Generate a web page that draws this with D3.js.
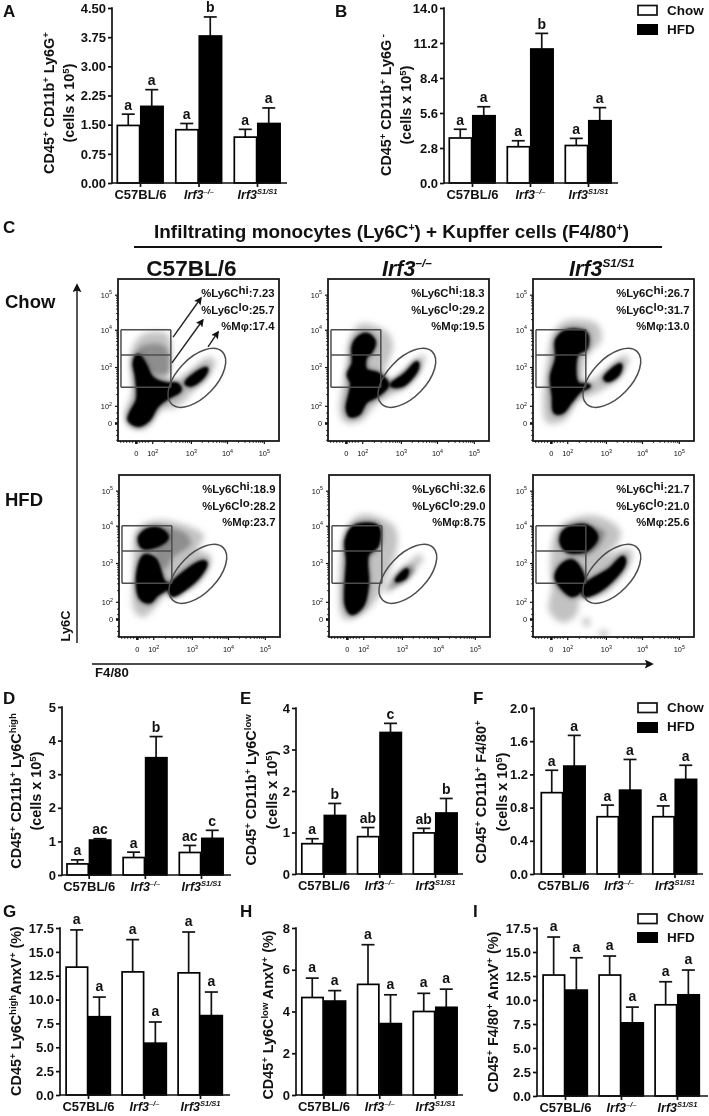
<!DOCTYPE html>
<html><head><meta charset="utf-8">
<script src="https://cdn.jsdelivr.net/npm/d3@7/dist/d3.min.js"></script>
<style>html,body{margin:0;padding:0;background:#fff}svg{display:block;filter:blur(.35px)}text{font-family:"Liberation Sans",Arial,sans-serif;font-weight:700;fill:#111}</style>
</head><body><svg id="c" width="709" height="1116"></svg>
<script>
const categories = ["C57BL/6","Irf3^{–/–}","Irf3^{S1/S1}"];
const seriesNames = ["Chow","HFD"];
// Bar panels: values (top of bar), upper error bar end, significance letters
const aChow=[1.48,1.37,1.18], aHfd=[1.97,3.78,1.53], aChowErr=[1.77,1.53,1.38], aHfdErr=[2.40,4.27,1.93], aLetters=["a","a","a","b","a","a"];
const bChow=[3.6,2.9,3.0], bHfd=[5.38,10.72,4.98], bChowErr=[4.3,3.38,3.57], bHfdErr=[6.1,11.97,6.03], bLetters=["a","a","a","b","a","a"];
const dChow=[.33,.52,.67], dHfd=[1.04,3.49,1.09], dChowErr=[.45,.68,.88], dHfdErr=[1.08,4.12,1.33], dLetters=["a","ac","a","b","ac","c"];
const eChow=[.73,.90,.99], eHfd=[1.41,3.41,1.47], eChowErr=[.85,1.12,1.10], eHfdErr=[1.70,3.63,1.82], eLetters=["a","b","ab","c","ab","b"];
const fChow=[.98,.69,.69], fHfd=[1.30,1.01,1.14], fChowErr=[1.25,.83,.82], fHfdErr=[1.67,1.38,1.31], fLetters=["a","a","a","a","a","a"];
const gChow=[13.4,12.9,12.8], gHfd=[8.2,5.43,8.32], gChowErr=[17.3,16.28,17.08], gHfdErr=[10.26,7.65,10.79], gLetters=["a","a","a","a","a","a"];
const hChow=[4.67,5.3,4.0], hHfd=[4.5,3.42,4.2], hChowErr=[5.6,7.2,4.87], hHfdErr=[5.0,4.8,5.07], hLetters=["a","a","a","a","a","a"];
const iChow=[12.6,12.6,9.5], iHfd=[11.03,7.62,10.54], iChowErr=[16.56,14.58,11.9], iHfdErr=[14.4,9.26,13.12], iLetters=["a","a","a","a","a","a"];
const aTicks=[0,.75,1.5,2.25,3,3.75,4.5], bTicks=[0,2.8,5.6,8.4,11.2,14], dTicks=[0,1,2,3,4,5], eTicks=[0,1,2,3,4], fTicks=[0,.4,.8,1.2,1.6,2], gTicks=[0,2.5,5,7.5,10,12.5,15,17.5], hTicks=[0,2,4,6,8];

// Flow cytometry panels: gate percentages and density contours, in decades of the biexponential axes
const flowColumns=["C57BL/6","Irf3^{–/–}","Irf3^{S1/S1}"];
const flowHi=["7.23","18.3","26.7","18.9","32.6","21.7"], flowLo=["25.7","29.2","31.7","28.2","29.0","21.0"], flowMac=["17.4","19.5","13.0","23.7","8.75","25.6"];
const flowTickLabels=["0","10^{2}","10^{3}","10^{4}","10^{5}"];
const flowXTicks=[1.54,1.98,3.02,3.99,4.98], flowYTicks=[1.57,2.03,3.07,4.07,5.01];
const gateX=[1.14,2.48], gateY=[2.53,3.39,4.07], macGate={cx:3.18,cy:2.78,a:.98,b:.52,angle:-46};
const halo1=[[[1.46,3.54],[1.73,3.91],[2.36,3.94],[2.47,3.62],[2.45,2.64],[2.9,2.87],[3.48,3.31],[3.66,3.22],[3.52,2.91],[3.08,2.46],[2.63,2.02],[2.18,1.93],[1.82,1.48],[1.42,1.48],[1.28,1.84],[1.46,2.37],[1.42,3.18]]];
const mid1=[[[1.6,3.55],[2.0,3.7],[2.35,3.6],[2.4,2.9],[2.0,2.9],[1.7,3.2]]];
const core1=[[[1.6,3.37],[1.78,3.13],[1.96,2.78],[2.36,2.6],[2.63,2.6],[2.72,2.46],[2.36,2.24],[2.09,2.02],[1.87,1.66],[1.6,1.52],[1.37,1.66],[1.42,1.84],[1.6,2.2],[1.57,2.82],[1.51,3.18]],[[2.9,2.64],[3.26,2.95],[3.43,3.02],[3.34,2.82],[3.03,2.6]]];
const halo2=[[[1.66,3.79],[1.93,4.2],[2.65,3.97],[2.78,3.62],[2.56,2.9],[2.74,2.68],[3.63,3.39],[3.59,3.12],[3.09,2.54],[2.38,2.14],[1.93,1.65],[1.53,1.61],[1.39,1.92],[1.57,2.99]]];
const mid2=[];
const core2=[[[1.88,3.84],[2.11,3.93],[2.29,3.75],[2.2,3.48],[2.06,3.35],[2.06,2.99],[2.42,2.86],[2.65,2.59],[2.38,2.32],[2.06,2.14],[1.88,1.83],[1.66,1.78],[1.59,1.96],[1.71,2.63],[1.62,2.86],[1.75,3.17],[1.75,3.62]],[[2.78,2.59],[3.14,2.86],[3.45,3.17],[3.43,2.99],[3.05,2.59]]];
const halo3=[[[1.62,3.97],[1.97,4.29],[2.78,4.2],[2.87,3.79],[2.47,3.35],[2.42,2.63],[2.96,2.9],[3.5,3.35],[3.63,3.3],[3.41,2.9],[2.87,2.45],[2.24,2.18],[1.88,1.65],[1.44,1.61],[1.35,2.1],[1.44,2.99]]];
const mid3=[];
const core3=[[[1.71,3.79],[1.97,4.02],[2.47,3.97],[2.47,3.57],[2.24,3.44],[2.24,2.63],[2.56,2.56],[2.33,2.45],[2.06,2.14],[1.84,1.87],[1.66,1.87],[1.62,2.28],[1.57,2.81],[1.71,3.3]],[[3.0,2.77],[3.4,3.12],[3.35,2.9],[3.08,2.72]]];
const halo4=[[[1.57,3.96],[2.06,4.19],[2.87,4.05],[3.32,3.79],[3.14,3.43],[3.5,3.25],[3.45,2.98],[2.96,2.44],[2.51,2.62],[2.15,2.09],[1.71,1.64],[1.48,1.82],[1.48,2.71]]];
const mid4=[[[2.1,4.0],[2.8,3.9],[3.0,3.6],[2.5,3.2],[2.3,2.9],[2.0,3.4]]];
const core4=[[[1.62,3.74],[1.84,3.95],[2.15,3.96],[2.35,3.77],[2.11,3.56],[1.71,3.5]],[[1.75,3.25],[2.02,3.16],[2.24,2.58],[2.38,2.45],[2.06,2.22],[1.88,2.04],[1.66,2.13],[1.57,2.71]],[[2.47,2.49],[3.23,3.07],[3.38,3.07],[3.23,2.76],[2.78,2.36],[2.51,2.22],[2.42,2.36]]];
const halo5=[[[2.03,4.36],[2.79,4.04],[2.88,3.64],[2.52,2.53],[2.16,1.9],[1.62,1.59],[1.44,1.62],[1.49,3.77],[1.71,4.22]],[[2.57,2.35],[3.51,3.28],[3.55,3.15],[2.79,2.44],[2.61,2.3]]];
const mid5=[[[2.66,2.37],[3.3,3.02],[3.35,2.85],[2.8,2.42]]];
const core5=[[[1.76,4.04],[2.35,4.04],[2.35,3.55],[2.08,3.29],[2.08,2.48],[1.95,1.94],[1.68,1.73],[1.54,1.94],[1.57,3.15],[1.54,3.69]],[[2.88,2.61],[3.15,2.88],[3.1,2.7]]];
const halo6=[[[1.73,3.96],[2.4,4.31],[3.02,4.22],[3.39,3.91],[3.3,3.6],[2.94,3.24],[3.66,3.42],[3.7,3.2],[2.94,2.26],[2.31,2.17],[2.22,1.72],[1.87,1.5],[1.51,1.81],[1.6,2.44],[1.55,3.06]],[[2.42,1.55],[2.55,1.55],[2.55,1.4],[2.45,1.42]],[[2.86,1.22],[3.06,1.22],[3.0,1.1],[2.9,1.1]]];
const mid6=[[[2.3,3.2],[2.8,3.5],[3.0,3.9],[2.6,4.0],[2.5,3.4]]];
const core6=[[[1.82,3.69],[1.96,3.96],[2.49,4.05],[2.76,3.78],[2.49,3.42],[1.96,3.42]],[[1.87,3.02],[2.13,3.11],[2.4,2.7],[2.4,2.44],[2.13,2.21],[1.87,2.39],[1.69,2.7]],[[2.45,2.44],[3.12,2.88],[3.48,3.21],[3.5,3.06],[3.12,2.57],[2.67,2.26],[2.45,2.21]]];
const arrowsFrom=[[2.54,3.87],[2.51,3.18],[3.48,3.61]], arrowsTo=[[3.29,4.92],[3.34,4.33],[3.75,4.01]];

const svg=d3.select("#c");
const defs=svg.append("defs");
[["b5",3.4],["b3",2.4],["b1",1.0]].forEach(([id,s])=>defs.append("filter").attr("id",id).attr("x","-30%").attr("y","-30%").attr("width","160%").attr("height","160%").append("feGaussianBlur").attr("stdDeviation",s));
const mk=(id,w)=>defs.append("marker").attr("id",id).attr("viewBox","0 0 10 10").attr("refX",8).attr("refY",5).attr("markerWidth",w).attr("markerHeight",w).attr("markerUnits","userSpaceOnUse").attr("orient","auto").append("path").attr("d","M0,0L10,5L0,10L2,5Z").attr("fill","#111");
mk("ar",9);mk("ars",8);

function rich(t,str,size,opt={}){
  const sc=opt.sc||.66, rise=opt.rise==null?.38:opt.rise, parts=str.split(/\^\{([^}]*)\}/);
  t.text(null).style("font-size",size+"px");
  let pending=0;
  parts.forEach((p,i)=>{ if(!p) return;
    const sup=i%2===1, ts=t.append("tspan").text(p);
    if(sup){ts.style("font-size",(size*sc)+"px").attr("dy",-size*rise-pending);pending=-size*rise;}
    else{ if(pending) ts.attr("dy",-pending); pending=0;}
  });
  return t;
}
const txt=(x,y,s,size,o={})=>{const t=svg.append("text").attr("x",x).attr("y",y).attr("text-anchor",o.anchor||"start");if(o.italic)t.style("font-style","italic");return rich(t,s,size,o);};
const vtxt=(x,y,s,size)=>{const t=svg.append("text").attr("text-anchor","middle").attr("transform",`translate(${x},${y}) rotate(-90)`);return rich(t,s,size);};

function legend(x,y0,y1,ty0,ty1){
  svg.append("rect").attr("x",x).attr("y",y0).attr("width",19).attr("height",9.5).attr("fill","#fff").attr("stroke","#111").attr("stroke-width",1.7);
  svg.append("rect").attr("x",x-1).attr("y",y1-1).attr("width",21).attr("height",11).attr("fill","#000");
  txt(x+29,ty0,seriesNames[0],13.5); txt(x+29,ty1,seriesNames[1],13.5);
}

function barPanel(p){
  const g=svg.append("g");
  const y=d3.scaleLinear().domain([p.ticks[0],p.ticks[p.ticks.length-1]]).range([p.base,p.top]);
  const gx=d3.scalePoint().domain(categories).range(p.cx);
  const sub=d3.scaleBand().domain(seriesNames).range([-p.w,p.w]);
  const rows=[];
  categories.forEach((c,i)=>{rows.push({c,s:"Chow",v:p.chow[i],e:p.chowErr[i],l:p.letters[2*i]});rows.push({c,s:"HFD",v:p.hfd[i],e:p.hfdErr[i],l:p.letters[2*i+1]});});
  const X=d=>gx(d.c)+sub(d.s), bw=sub.bandwidth();
  g.selectAll("line.e").data(rows).join("line").attr("x1",d=>X(d)+bw/2).attr("x2",d=>X(d)+bw/2).attr("y1",d=>y(d.v)).attr("y2",d=>y(d.e)).attr("stroke","#111").attr("stroke-width",1.7);
  g.selectAll("line.c").data(rows).join("line").attr("x1",d=>X(d)+bw/2-6.5).attr("x2",d=>X(d)+bw/2+6.5).attr("y1",d=>y(d.e)).attr("y2",d=>y(d.e)).attr("stroke","#111").attr("stroke-width",1.7);
  g.selectAll("rect").data(rows).join("rect").attr("x",d=>X(d)+.8).attr("y",d=>y(d.v)).attr("width",bw-1.2).attr("height",d=>y(0)-y(d.v)).attr("fill",d=>d.s==="Chow"?"#fff":"#000").attr("stroke","#000").attr("stroke-width",1.7);
  g.selectAll("text.l").data(rows).join("text").attr("text-anchor","middle").attr("x",d=>X(d)+bw/2).attr("y",d=>y(d.e)-(p.lgap||4.5)).style("font-size","14px").text(d=>d.l);
  const ya=g.append("g").attr("transform",`translate(${p.ax},0)`).call(d3.axisLeft(y).tickValues(p.ticks).tickFormat(d3.format(p.fmt)).tickSize(4).tickPadding(2));
  const xa=g.append("g").attr("transform",`translate(0,${p.base})`).call(d3.axisBottom(gx).tickSize(4).tickPadding(5));
  [ya,xa].forEach(a=>{a.selectAll("path,line").attr("stroke","#111").attr("stroke-width",1.7);a.select("path.domain").remove();});
  g.append("line").attr("x1",p.ax).attr("x2",p.ax).attr("y1",p.top-.8).attr("y2",p.base+.8).attr("stroke","#111").attr("stroke-width",1.7);
  g.append("line").attr("x1",p.ax).attr("x2",p.xEnd).attr("y1",p.base).attr("y2",p.base).attr("stroke","#111").attr("stroke-width",1.7);
  ya.selectAll("text").style("font-size","13px").style("font-family",'"Liberation Sans"').attr("fill","#111");
  xa.selectAll(".tick text").each(function(d){const t=d3.select(this);t.attr("fill","#111").attr("y",null).attr("dy",null).attr("y",16);const it=d!=="C57BL/6";if(it)t.style("font-style","italic");rich(t,d,it?12.5:13,{sc:.6});});
  vtxt(p.lx1,p.lc,p.l1,14.4);
  if(p.l2) vtxt(p.lx2,p.lc,p.l2,14.4);
}
barPanel({chow:aChow,hfd:aHfd,chowErr:aChowErr,hfdErr:aHfdErr,letters:aLetters,ticks:aTicks,fmt:".2f",ax:112,top:8,base:183,xEnd:287,cx:[140,257],w:23.5,lx1:54,lx2:74,lc:103,l1:"CD45^{+} CD11b^{+}  Ly6G^{+}",l2:"(cells x 10^{5})"});
barPanel({chow:bChow,hfd:bHfd,chowErr:bChowErr,hfdErr:bHfdErr,letters:bLetters,ticks:bTicks,fmt:".1f",ax:444,top:8,base:183,xEnd:618,cx:[472,588],w:23.5,lx1:391,lx2:411,lc:105,l1:"CD45^{+} CD11b^{+}  Ly6G^{ -}",l2:"(cells x 10^{5})"});
barPanel({chow:dChow,hfd:dHfd,chowErr:dChowErr,hfdErr:dHfdErr,letters:dLetters,ticks:dTicks,fmt:"d",ax:62,top:707,base:875,xEnd:231,cx:[88.7,201],w:22.5,lx1:21,lx2:41,lc:791,l1:"CD45^{+} CD11b^{+} Ly6C^{high}",l2:"(cells x 10^{5})"});
barPanel({chow:eChow,hfd:eHfd,chowErr:eChowErr,hfdErr:eHfdErr,letters:eLetters,ticks:eTicks,fmt:"d",ax:296,top:708,base:874,xEnd:463,cx:[323.5,435],w:22.5,lx1:256,lx2:277,lc:790,l1:"CD45^{+} CD11b^{+} Ly6C^{low}",l2:"(cells x 10^{5})"});
barPanel({chow:fChow,hfd:fHfd,chowErr:fChowErr,hfdErr:fHfdErr,letters:fLetters,ticks:fTicks,fmt:".1f",ax:534,top:708,base:874,xEnd:703,cx:[563,674.5],w:22.5,lx1:486,lx2:507,lc:792,l1:"CD45^{+} CD11b^{+} F4/80^{+}",l2:"(cells x 10^{5})"});
barPanel({chow:gChow,hfd:gHfd,chowErr:gChowErr,hfdErr:gHfdErr,letters:gLetters,ticks:gTicks,fmt:".1f",ax:60,top:928,base:1095,xEnd:230,cx:[88,200],w:22.7,lgap:6,lx1:21,lc:1011,l1:"CD45^{+} Ly6C^{high}AnxV^{+} (%)"});
barPanel({chow:hChow,hfd:hHfd,chowErr:hChowErr,hfdErr:hHfdErr,letters:hLetters,ticks:hTicks,fmt:"d",ax:296,top:928,base:1095,xEnd:463,cx:[323.5,435],w:22.5,lgap:6,lx1:273,lc:1015,l1:"CD45^{+} Ly6C^{low} AnxV^{+} (%)"});
barPanel({chow:iChow,hfd:iHfd,chowErr:iChowErr,hfdErr:iHfdErr,letters:iLetters,ticks:gTicks,fmt:".1f",ax:537,top:928,base:1096,xEnd:708,cx:[565,677],w:22.7,lgap:6,lx1:498,lc:1012,l1:"CD45^{+} F4/80^{+} AnxV^{+} (%)"});
legend(638,5.5,25,15,34);legend(638,703,723,712,731);legend(638,914,933,922,942);

function flowPanel(k,left,top,halo,mid,core){
  const W=161,H=162;
  const x=d3.scaleLinear().domain([1.06,1.06+W/37.2]).range([0,W]);
  const y=d3.scaleLinear().domain([5.43,5.43-H/37.3]).range([0,H]);
  const g=svg.append("g").attr("transform",`translate(${left},${top})`);
  const cid="cl"+k; defs.append("clipPath").attr("id",cid).append("rect").attr("width",W).attr("height",H);
  const line=d3.line().x(d=>x(d[0])).y(d=>y(d[1])).curve(d3.curveCatmullRomClosed.alpha(.5));
  const dens=g.append("g").attr("clip-path",`url(#${cid})`);
  dens.append("g").attr("filter","url(#b5)").selectAll("path").data(halo).join("path").attr("d",line).attr("fill","#c2c2c2").attr("stroke","#c2c2c2").attr("stroke-width",2);
  if(mid.length) dens.append("g").attr("filter","url(#b3)").selectAll("path").data(mid).join("path").attr("d",line).attr("fill","#8e8e8e");
  dens.append("g").attr("filter","url(#b3)").selectAll("path").data(core).join("path").attr("d",line).attr("fill","#444").attr("stroke","#555").attr("stroke-width",6);
  dens.append("g").attr("filter","url(#b1)").selectAll("path").data(core).join("path").attr("d",line).attr("fill","#000").attr("stroke","#000").attr("stroke-width",4);
  const gc="#4d4d4d";
  g.selectAll("line.gate").data(gateY).join("line").attr("x1",x(gateX[0])).attr("x2",x(gateX[1])).attr("y1",d=>y(d)).attr("y2",d=>y(d)).attr("stroke",gc).attr("stroke-width",1.5);
  g.selectAll("line.gv").data(gateX).join("line").attr("x1",d=>x(d)).attr("x2",d=>x(d)).attr("y1",y(gateY[0])).attr("y2",y(gateY[2])).attr("stroke",gc).attr("stroke-width",1.5);
  g.append("ellipse").attr("rx",x(macGate.cx+macGate.a)-x(macGate.cx)).attr("ry",x(macGate.cx+macGate.b)-x(macGate.cx)).attr("transform",`translate(${x(macGate.cx)},${y(macGate.cy)}) rotate(${macGate.angle})`).attr("fill","none").attr("stroke",gc).attr("stroke-width",1.5);
  const minor=a=>{const o=[];a.slice(1,-1).forEach((v,i)=>[2,3,4,5,6,7,8,9].forEach(m=>o.push(v+Math.log10(m)*(a[i+2]-v))));return o;};
  const xm=minor(flowXTicks).concat([1.12,1.2,1.28,1.36,1.44,1.62,1.7,1.78,1.86]);
  const ym=minor(flowYTicks).concat([1.12,1.25,1.38,1.7,1.85]);
  const xa=g.append("g").attr("transform",`translate(0,${H})`).call(d3.axisBottom(x).tickValues(flowXTicks).tickFormat((d,i)=>flowTickLabels[i]).tickSize(3).tickPadding(7));
  const ya=g.append("g").call(d3.axisLeft(y).tickValues(flowYTicks).tickFormat((d,i)=>flowTickLabels[i]).tickSize(3).tickPadding(3));
  g.append("g").attr("transform",`translate(0,${H})`).call(d3.axisBottom(x).tickValues(xm).tickFormat("").tickSize(1.8)).call(s=>s.select("path").remove()).selectAll("line").attr("stroke","#111").attr("stroke-width",1);
  g.append("g").call(d3.axisLeft(y).tickValues(ym).tickFormat("").tickSize(1.8)).call(s=>s.select("path").remove()).selectAll("line").attr("stroke","#111").attr("stroke-width",1);
  [xa,ya].forEach(a=>{a.select("path.domain").remove();a.selectAll("line").attr("stroke","#111").attr("stroke-width",1.2).filter((d,i)=>i===0).attr("stroke-width",2.6);
    a.selectAll("text").each(function(d,i){const t=d3.select(this);t.attr("fill","#333");rich(t,flowTickLabels[i],7.4,{sc:.72,rise:.42});t.selectAll("tspan").style("font-weight",400);t.style("font-weight",400);});});
  g.append("rect").attr("width",W).attr("height",H).attr("fill","none").attr("stroke","#1a1a1a").attr("stroke-width",1.8);
  const tx=W-4.5, rows=[`%Ly6C^{hi}:${flowHi[k]}`,`%Ly6C^{lo}:${flowLo[k]}`,`%Mφ:${flowMac[k]}`], ty=[18,35,50.5];
  rows.forEach((s,i)=>{const t=g.append("text").attr("x",tx).attr("y",ty[i]).attr("text-anchor","end");rich(t,s,11.3,{sc:1.02,rise:.24});});
  if(k===0){arrowsFrom.forEach((a,i)=>g.append("line").attr("x1",x(a[0])).attr("y1",y(a[1])).attr("x2",x(arrowsTo[i][0])).attr("y2",y(arrowsTo[i][1])).attr("stroke","#222").attr("stroke-width",1.4).attr("marker-end","url(#ars)"));}
}
flowPanel(0,118,279,halo1,mid1,core1);
flowPanel(1,328,279,halo2,mid2,core2);
flowPanel(2,533,279,halo3,mid3,core3);
flowPanel(3,119,475,halo4,mid4,core4);
flowPanel(4,329,475,halo5,mid5,core5);
flowPanel(5,533,475,halo6,mid6,core6);

txt(3,17,"A",17);txt(335,17,"B",17);txt(3,233,"C",17);txt(3,704,"D",17);txt(240,704,"E",17);txt(473,704,"F",17);txt(3,917,"G",17);txt(240,917,"H",17);txt(473,917,"I",17);
txt(391.5,238,"Infiltrating monocytes (Ly6C^{+}) + Kupffer cells (F4/80^{+})",18.9,{anchor:"middle",sc:.55});
svg.append("line").attr("x1",134).attr("x2",662).attr("y1",247).attr("y2",247).attr("stroke","#111").attr("stroke-width",2);
txt(191.5,275.5,flowColumns[0],22.6,{anchor:"middle"});
txt(382,275.5,flowColumns[1],21.5,{italic:true,sc:.55});
txt(569,275.5,flowColumns[2],21.5,{italic:true,sc:.55});
txt(5,308,"Chow",18.5);txt(5,506,"HFD",18.5);
vtxt(70,626,"Ly6C",12.8);
txt(95,677,"F4/80",13.2);
svg.append("line").attr("x1",77).attr("x2",77).attr("y1",643).attr("y2",285).attr("stroke","#111").attr("stroke-width",1.4).attr("marker-end","url(#ar)");
svg.append("line").attr("x1",92).attr("x2",652).attr("y1",664).attr("y2",664).attr("stroke","#111").attr("stroke-width",1.4).attr("marker-end","url(#ar)");
</script></body></html>
